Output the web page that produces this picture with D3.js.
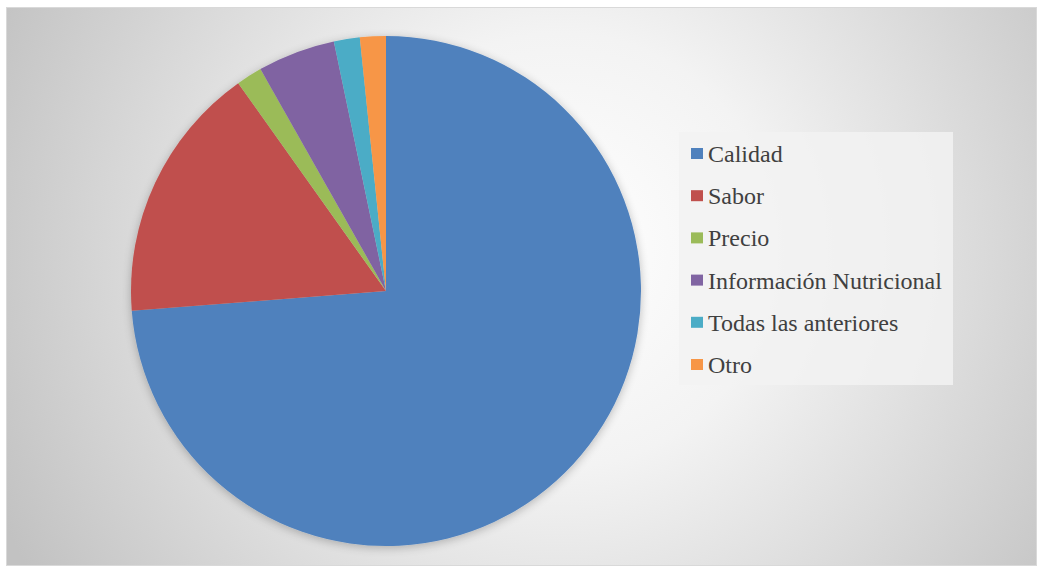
<!DOCTYPE html>
<html>
<head>
<meta charset="utf-8">
<script src="https://cdn.jsdelivr.net/npm/d3@7"></script>
<style>
  html, body { margin: 0; padding: 0; background: #ffffff; }
  svg { display: block; }
  .legend-label { font-family: "Liberation Serif"; font-size: 24px; }
</style>
</head>
<body>
<svg id="chart" width="1043" height="571"></svg>
<script>
// Respuestas por criterio de elección
const categories = ["Calidad", "Sabor", "Precio", "Información Nutricional", "Todas las anteriores", "Otro"];
const counts = [45, 10, 1, 3, 1, 1];
const colors = ["#4F81BD", "#C0504D", "#9BBB59", "#8064A2", "#4BACC6", "#F79646"];

const W = 1043, H = 571;
const svg = d3.select("#chart");
const defs = svg.append("defs");

// Radial background: light in the middle, grey towards the edges
const bg = defs.append("radialGradient")
  .attr("id", "bgGrad")
  .attr("gradientUnits", "userSpaceOnUse")
  .attr("cx", 560).attr("cy", 250).attr("r", 620);
bg.append("stop").attr("offset", "0%").attr("stop-color", "#ffffff");
bg.append("stop").attr("offset", "35%").attr("stop-color", "#f3f3f3");
bg.append("stop").attr("offset", "100%").attr("stop-color", "#c2c2c2");

const shadow = defs.append("filter").attr("id", "pieShadow")
  .attr("x", "-20%").attr("y", "-20%").attr("width", "140%").attr("height", "140%");
shadow.append("feGaussianBlur").attr("in", "SourceAlpha").attr("stdDeviation", 5).attr("result", "b");
shadow.append("feOffset").attr("in", "b").attr("dx", 0).attr("dy", 2).attr("result", "o");
shadow.append("feComponentTransfer").attr("in", "o").attr("result", "s")
  .append("feFuncA").attr("type", "linear").attr("slope", 0.25);
const merge = shadow.append("feMerge");
merge.append("feMergeNode").attr("in", "s");
merge.append("feMergeNode").attr("in", "SourceGraphic");

// Chart area
svg.append("rect")
  .attr("x", 6.5).attr("y", 7.5).attr("width", 1030).attr("height", 558)
  .attr("fill", "url(#bgGrad)")
  .attr("stroke", "#d9d9d9").attr("stroke-width", 1);

// Pie
const cx = 386, cy = 291, radius = 255;
const pie = d3.pie().sort(null).value(d => d.v);
const arc = d3.arc().innerRadius(0).outerRadius(radius);
const data = categories.map((c, i) => ({ c, v: counts[i], col: colors[i] }));

const g = svg.append("g")
  .attr("transform", `translate(${cx},${cy})`)
  .attr("filter", "url(#pieShadow)");
g.selectAll("path")
  .data(pie(data))
  .join("path")
  .attr("d", arc)
  .attr("fill", d => d.data.col);

// Legend
const legend = svg.append("g");
legend.append("rect")
  .attr("x", 679).attr("y", 132).attr("width", 274).attr("height", 253)
  .attr("fill", "#f2f2f2").attr("fill-opacity", 0.85);

const rowY = d3.scalePoint().domain(categories).range([154, 365]);
const items = legend.selectAll("g.item")
  .data(data)
  .join("g")
  .attr("class", "item")
  .attr("transform", d => `translate(691,${rowY(d.c)})`);
items.append("rect")
  .attr("x", 0).attr("y", -6).attr("width", 12).attr("height", 11)
  .attr("fill", d => d.col);
items.append("text")
  .attr("class", "legend-label")
  .attr("x", 17).attr("y", 0).attr("dy", "0.33em")
  .attr("fill", "#404040")
  .text(d => d.c);
</script>
</body>
</html>
